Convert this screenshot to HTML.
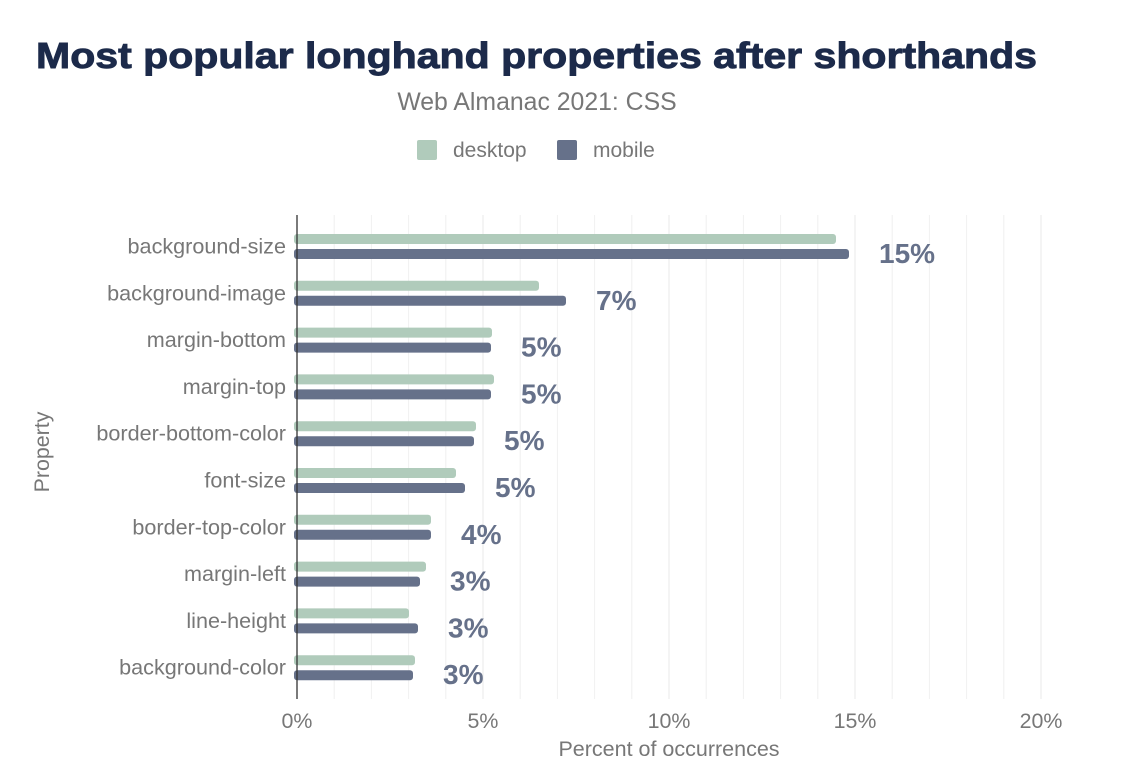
<!DOCTYPE html>
<html>
<head>
<meta charset="utf-8">
<style>
  html,body{margin:0;padding:0;background:#fff;}
  svg{display:block;}
  text{font-family:"Liberation Sans",Arial,sans-serif;}
</style>
</head>
<body>
<svg width="1128" height="784" viewBox="0 0 1128 784" xmlns="http://www.w3.org/2000/svg">
  <rect width="1128" height="784" fill="#fff"/>
  <!-- Title -->
  <text x="36" y="68" font-size="36" font-weight="bold" fill="#1c2a4a" stroke="#1c2a4a" stroke-width="0.9" textLength="1001" lengthAdjust="spacingAndGlyphs">Most popular longhand properties after shorthands</text>
  <text x="537" y="110" font-size="24.8" fill="#777" text-anchor="middle">Web Almanac 2021: CSS</text>
  <!-- Legend -->
  <rect x="417" y="140" width="20" height="20" rx="2" fill="#b0cbbb"/>
  <text x="453" y="157" font-size="21" fill="#777">desktop</text>
  <rect x="557" y="140" width="20" height="20" rx="2" fill="#66718a"/>
  <text x="593" y="157" font-size="21" fill="#777">mobile</text>

  <!-- Gridlines -->
  <g stroke="#f0f0f0" stroke-width="1">
    <line x1="334.2" y1="215" x2="334.2" y2="699"/>
    <line x1="371.4" y1="215" x2="371.4" y2="699"/>
    <line x1="408.6" y1="215" x2="408.6" y2="699"/>
    <line x1="445.8" y1="215" x2="445.8" y2="699"/>
    <line x1="483" y1="215" x2="483" y2="699" stroke="#e8e8e8"/>
    <line x1="520.2" y1="215" x2="520.2" y2="699"/>
    <line x1="557.4" y1="215" x2="557.4" y2="699"/>
    <line x1="594.6" y1="215" x2="594.6" y2="699"/>
    <line x1="631.8" y1="215" x2="631.8" y2="699"/>
    <line x1="669" y1="215" x2="669" y2="699" stroke="#e8e8e8"/>
    <line x1="706.2" y1="215" x2="706.2" y2="699"/>
    <line x1="743.4" y1="215" x2="743.4" y2="699"/>
    <line x1="780.6" y1="215" x2="780.6" y2="699"/>
    <line x1="817.8" y1="215" x2="817.8" y2="699"/>
    <line x1="855" y1="215" x2="855" y2="699" stroke="#e8e8e8"/>
    <line x1="892.2" y1="215" x2="892.2" y2="699"/>
    <line x1="929.4" y1="215" x2="929.4" y2="699"/>
    <line x1="966.6" y1="215" x2="966.6" y2="699"/>
    <line x1="1003.8" y1="215" x2="1003.8" y2="699"/>
    <line x1="1041" y1="215" x2="1041" y2="699" stroke="#e8e8e8"/>
  </g>

  <!-- Bars: desktop -->
  <g fill="#b0cbbb">
    <rect x="294" y="234" width="542" height="10" rx="3"/>
    <rect x="294" y="280.8" width="245" height="10" rx="3"/>
    <rect x="294" y="327.6" width="198" height="10" rx="3"/>
    <rect x="294" y="374.4" width="200" height="10" rx="3"/>
    <rect x="294" y="421.2" width="182" height="10" rx="3"/>
    <rect x="294" y="468" width="162" height="10" rx="3"/>
    <rect x="294" y="514.8" width="137" height="10" rx="3"/>
    <rect x="294" y="561.6" width="132" height="10" rx="3"/>
    <rect x="294" y="608.4" width="115" height="10" rx="3"/>
    <rect x="294" y="655.2" width="121" height="10" rx="3"/>
  </g>
  <!-- Bars: mobile -->
  <g fill="#66718a">
    <rect x="294" y="249" width="555" height="10" rx="3"/>
    <rect x="294" y="295.8" width="272" height="10" rx="3"/>
    <rect x="294" y="342.6" width="197" height="10" rx="3"/>
    <rect x="294" y="389.4" width="197" height="10" rx="3"/>
    <rect x="294" y="436.2" width="180" height="10" rx="3"/>
    <rect x="294" y="483" width="171" height="10" rx="3"/>
    <rect x="294" y="529.8" width="137" height="10" rx="3"/>
    <rect x="294" y="576.6" width="126" height="10" rx="3"/>
    <rect x="294" y="623.4" width="124" height="10" rx="3"/>
    <rect x="294" y="670.2" width="119" height="10" rx="3"/>
  </g>

  <!-- Axis line -->
  <line x1="297" y1="215" x2="297" y2="699" stroke="#333" stroke-width="1.3"/>

  <!-- Value labels -->
  <g font-size="28" font-weight="bold" fill="#66718a">
    <text x="879" y="263">15%</text>
    <text x="596" y="309.8">7%</text>
    <text x="521" y="356.6">5%</text>
    <text x="521" y="403.4">5%</text>
    <text x="504" y="450.2">5%</text>
    <text x="495" y="497">5%</text>
    <text x="461" y="543.8">4%</text>
    <text x="450" y="590.6">3%</text>
    <text x="448" y="637.4">3%</text>
    <text x="443" y="684.2">3%</text>
  </g>

  <!-- Y labels -->
  <g font-size="21.6" fill="#777" text-anchor="end">
    <text x="286" y="253.5">background-size</text>
    <text x="286" y="300.3">background-image</text>
    <text x="286" y="347.1">margin-bottom</text>
    <text x="286" y="393.9">margin-top</text>
    <text x="286" y="440.7">border-bottom-color</text>
    <text x="286" y="487.5">font-size</text>
    <text x="286" y="534.3">border-top-color</text>
    <text x="286" y="581.1">margin-left</text>
    <text x="286" y="627.9">line-height</text>
    <text x="286" y="674.7">background-color</text>
  </g>

  <!-- X tick labels -->
  <g font-size="21.4" fill="#777" text-anchor="middle">
    <text x="297" y="728">0%</text>
    <text x="483" y="728">5%</text>
    <text x="669" y="728">10%</text>
    <text x="855" y="728">15%</text>
    <text x="1041" y="728">20%</text>
  </g>
  <text x="669" y="756" font-size="21.5" fill="#777" text-anchor="middle">Percent of occurrences</text>
  <text x="0" y="0" font-size="21.4" fill="#777" text-anchor="middle" transform="translate(49,452) rotate(-90)">Property</text>
</svg>
</body>
</html>
